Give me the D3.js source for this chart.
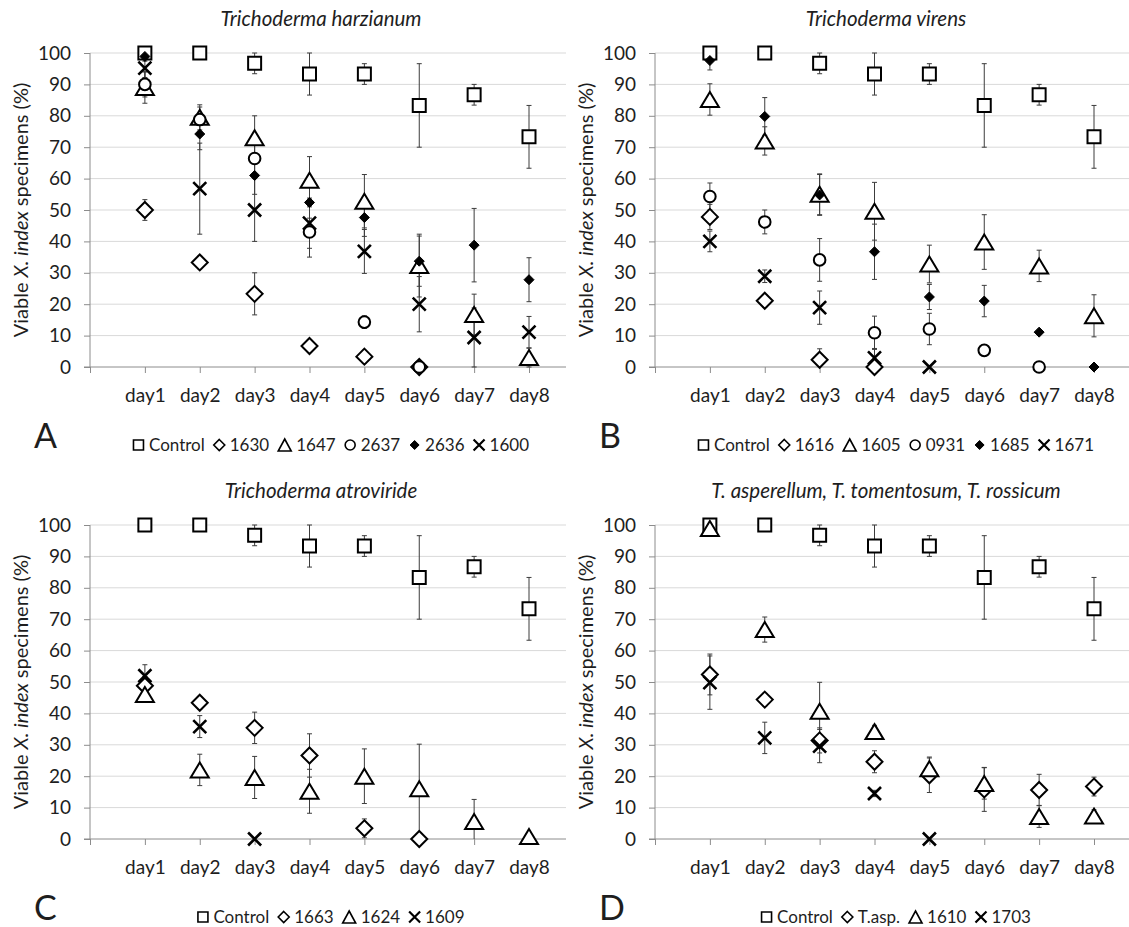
<!DOCTYPE html>
<html><head><meta charset="utf-8">
<script src="https://cdn.jsdelivr.net/npm/d3@7"></script>
<style>
body{margin:0;background:#fff}
text{font-family:Lato,"Open Sans",sans-serif;fill:#1e1e1e}
</style>
</head><body>
<svg id="chart" width="1129" height="927"></svg>
<script>
// ---------- data ----------
const days = ["day1","day2","day3","day4","day5","day6","day7","day8"];
const yTickValues = [0,10,20,30,40,50,60,70,80,90,100];

const controlValues = [100,100,96.7,93.3,93.3,83.3,86.7,73.3];
const controlErr    = [0,0,3.3,6.7,3.3,13.3,3.3,10];

// Panel A – Trichoderma harzianum
const aNames  = ["Control","1630","1647","2637","2636","1600"];
const a1630 = [50,33.3,23.3,6.7,3.3,0,null,null];
const a1630Err = [3.3,2,6.7,2,2,0,0,0];
const a1647 = [89,79.5,73,59.5,52.8,32.3,16.7,3];
const a1647Err = [5,4,7,7.5,8.5,10,6.5,3];
const a2637 = [90,78.8,66.4,43,14.3,0,null,null];
const a2637Err = [4,4,5,8,2,0,0,0];
const a2636 = [98.9,74.2,61,52.4,47.6,33.7,38.8,27.8];
const a2636Err = [1.5,5,6,5,6,8,11.7,7];
const a1600 = [95.2,56.8,50,45.8,36.8,20,9.4,11.1];
const a1600Err = [3,14.5,10,8,7,8.8,9.4,5];

// Panel B – Trichoderma virens
const bNames  = ["Control","1616","1605","0931","1685","1671"];
const b1616 = [47.8,21.1,2.3,0,null,null,null,null];
const b1616Err = [4,2,3.5,0,0,0,0,0];
const b1605 = [85.2,72,55,49.6,32.8,39.8,32.2,16.3];
const b1605Err = [5,4.5,6.5,9.2,6,8.7,5,6.7];
const b0931 = [54.3,46.2,34.1,10.9,12.1,5.3,0,null];
const b0931Err = [4.3,3.8,6.8,5.3,5,0,0,0];
const b1685 = [97.6,79.8,54.8,36.7,22.3,21,11.1,0];
const b1685Err = [3,6,6.5,8.8,4,5,0,0];
const b1671 = [40,28.9,18.9,2.9,0,null,null,null];
const b1671Err = [3.3,2,5.3,3,0,0,0,0];

// Panel C – Trichoderma atroviride
const cNames  = ["Control","1663","1624","1609"];
const c1663 = [48.8,43.4,35.4,26.6,3.4,0,null,null];
const c1663Err = [3,2,5,6.9,3,0,0,0];
const c1624 = [46,22,19.6,15.2,20,16,5.6,0.8];
const c1624Err = [2,5,6.7,7,8.7,14.2,7,0];
const c1609 = [52,35.8,0,null,null,null,null,null];
const c1609Err = [3.5,3.5,0,0,0,0,0,0];

// Panel D – T. asperellum, T. tomentosum, T. rossicum
const dNames  = ["Control","T.asp.","1610","1703"];
const dTasp = [52.4,44.4,31.4,24.6,20.3,15.8,15.6,16.7];
const dTaspErr = [6.5,2,4,3.5,5.5,7,5,3];
const d1610 = [98.9,66.7,40.7,34.2,22.4,17.7,7.2,7.3];
const d1610Err = [1,4,9.2,2,3.7,5,3.5,2];
const d1703 = [49.8,32.2,29.6,14.5,0,null,null,null];
const d1703Err = [8.5,5,5.3,1,0,0,0,0];

// ---------- panels (built from the arrays above) ----------
const panels = [
  {letter:"A", title:["Trichoderma harzianum"], dx:0, dy:0, names:aNames,
   shapes:["square","diamond","triangle","circle","fdiamond","x"],
   values:[controlValues,a1630,a1647,a2637,a2636,a1600],
   errors:[controlErr,a1630Err,a1647Err,a2637Err,a2636Err,a1600Err]},
  {letter:"B", title:["Trichoderma virens"], dx:565, dy:0, names:bNames,
   shapes:["square","diamond","triangle","circle","fdiamond","x"],
   values:[controlValues,b1616,b1605,b0931,b1685,b1671],
   errors:[controlErr,b1616Err,b1605Err,b0931Err,b1685Err,b1671Err]},
  {letter:"C", title:["Trichoderma atroviride"], dx:0, dy:472, names:cNames,
   shapes:["square","diamond","triangle","x"],
   values:[controlValues,c1663,c1624,c1609],
   errors:[controlErr,c1663Err,c1624Err,c1609Err]},
  {letter:"D", title:["T. asperellum, T. tomentosum, T. rossicum"], dx:565, dy:472, names:dNames,
   shapes:["square","diamond","triangle","x"],
   values:[controlValues,dTasp,d1610,d1703],
   errors:[controlErr,dTaspErr,d1610Err,d1703Err]}
];

// ---------- marker shapes ----------
function markerPath(shape, big){
  const p = d3.path();
  if(shape==="square"){ const h = big?6.5:5; p.rect(-h,-h,2*h,2*h); }
  else if(shape==="diamond"){ const h = big?8:5.5; p.moveTo(0,-h); p.lineTo(h,0); p.lineTo(0,h); p.lineTo(-h,0); p.closePath(); }
  else if(shape==="fdiamond"){ const h = big?5:4.5; p.moveTo(0,-h); p.lineTo(h,0); p.lineTo(0,h); p.lineTo(-h,0); p.closePath(); }
  else if(shape==="triangle"){ const w = big?9:6.5, hh = big?7.5:6; p.moveTo(0,-hh); p.lineTo(w,hh); p.lineTo(-w,hh); p.closePath(); }
  else if(shape==="circle"){ const r = big?5.8:5; p.moveTo(r,0); p.arc(0,0,r,0,2*Math.PI); p.closePath(); }
  else if(shape==="x"){ const h = big?6.5:5.5; p.moveTo(-h,-h); p.lineTo(h,h); p.moveTo(h,-h); p.lineTo(-h,h); }
  return p.toString();
}
function styleMarker(sel, shape){
  if(shape==="fdiamond") sel.attr("fill","#000").attr("stroke","#000").attr("stroke-width",1);
  else if(shape==="x") sel.attr("fill","none").attr("stroke","#000").attr("stroke-width",2.6);
  else sel.attr("fill","#fff").attr("stroke","#000").attr("stroke-width",2);
}

// ---------- drawing ----------
const svg = d3.select("#chart");
svg.append("rect").attr("width",1129).attr("height",927).attr("fill","#fff");

const plotLeft = 90, plotRight = 566, plotTop = 53, plotBottom = 367;
const x = d3.scaleLinear().domain([0,8]).range([plotLeft, 529]);
const y = d3.scaleLinear().domain([0,100]).range([plotBottom, plotTop]);

panels.forEach(P => {
  const g = svg.append("g").attr("transform",`translate(${P.dx},${P.dy})`);

  // gridlines
  g.append("g").selectAll("line").data(yTickValues.filter(v=>v>0)).join("line")
    .attr("x1",plotLeft).attr("x2",plotRight)
    .attr("y1",d=>y(d)).attr("y2",d=>y(d))
    .attr("stroke","#d9d9d9").attr("stroke-width",1);

  // y axis
  const yAxis = d3.axisLeft(y).tickValues(yTickValues).tickSize(6).tickPadding(13);
  const ya = g.append("g").attr("transform",`translate(${plotLeft},0)`).call(yAxis);
  ya.select(".domain").attr("stroke","#8c8c8c").attr("d",`M0,${plotTop}V${plotBottom}`);
  ya.selectAll(".tick line").attr("stroke","#8c8c8c");
  ya.selectAll(".tick text").attr("font-size",19).attr("font-family","Lato").attr("fill","#1e1e1e");

  // x axis (category positions 1..8, blank slot at 0)
  const xAxis = d3.axisBottom(x).tickValues(d3.range(0,9)).tickSize(6).tickPadding(16)
      .tickFormat(i => i===0 ? "" : days[i-1]);
  const xa = g.append("g").attr("transform",`translate(0,${plotBottom})`).call(xAxis);
  xa.select(".domain").attr("stroke","#8c8c8c").attr("d",`M${plotLeft-6},0H${plotRight}`);
  xa.selectAll(".tick line").attr("stroke","#8c8c8c");
  xa.selectAll(".tick text").attr("font-size",19).attr("font-family","Lato").attr("fill","#1e1e1e");

  // y axis title
  const yt = g.append("text").attr("transform",`translate(28,${(plotTop+plotBottom)/2}) rotate(-90)`)
     .attr("text-anchor","middle").attr("font-size",20);
  yt.append("tspan").text("Viable ");
  yt.append("tspan").attr("font-style","italic").text("X. index");
  yt.append("tspan").text(" specimens (%)");

  // chart title
  g.append("text").attr("x",321).attr("y",26).attr("text-anchor","middle")
    .attr("font-size",20.5).attr("font-style","italic").text(P.title[0]);

  // panel letter
  g.append("text").attr("x",34).attr("y",448).attr("font-size",34).text(P.letter);

  // error bars
  P.values.forEach((vals, si) => {
    const errs = P.errors[si];
    const eb = g.append("g").attr("stroke","#3c3c3c").attr("stroke-width",1);
    vals.forEach((v, i) => {
      if(v===null || !errs[i]) return;
      const cx = x(i+1), y1 = y(Math.min(100, v+errs[i])), y2 = y(Math.max(0, v-errs[i]));
      eb.append("line").attr("x1",cx).attr("x2",cx).attr("y1",y1).attr("y2",y2);
      if(v+errs[i] <= 100) eb.append("line").attr("x1",cx-2.5).attr("x2",cx+2.5).attr("y1",y1).attr("y2",y1);
      if(v-errs[i] >= 0) eb.append("line").attr("x1",cx-2.5).attr("x2",cx+2.5).attr("y1",y2).attr("y2",y2);
    });
  });

  // markers
  P.values.forEach((vals, si) => {
    const shape = P.shapes[si];
    const pts = vals.map((v,i)=>({v,i})).filter(d=>d.v!==null);
    g.append("g").selectAll("path").data(pts).join("path")
      .attr("transform",d=>`translate(${x(d.i+1)},${y(d.v)})`)
      .attr("d",markerPath(shape,true))
      .call(styleMarker, shape);
  });

  // legend
  const lg = g.append("g");
  let cursor = 0;
  P.names.forEach((name, si) => {
    const shape = P.shapes[si];
    const mw = shape==="triangle" ? 13 : 11;
    const item = lg.append("g").attr("transform",`translate(${cursor},0)`);
    item.append("path").attr("transform",`translate(${mw/2},0)`).attr("d",markerPath(shape,false)).call(styleMarker, shape)
      .attr("stroke-width", shape==="x"?2.2:(shape==="fdiamond"?1:1.6));
    const t = item.append("text").attr("x",mw+5).attr("y",6).attr("font-size",17).text(name);
    cursor += mw + 5 + t.node().getComputedTextLength() + 9;
  });
  const total = cursor - 9;
  lg.attr("transform",`translate(${331 - total/2},445)`);
});
</script>
</body></html>
